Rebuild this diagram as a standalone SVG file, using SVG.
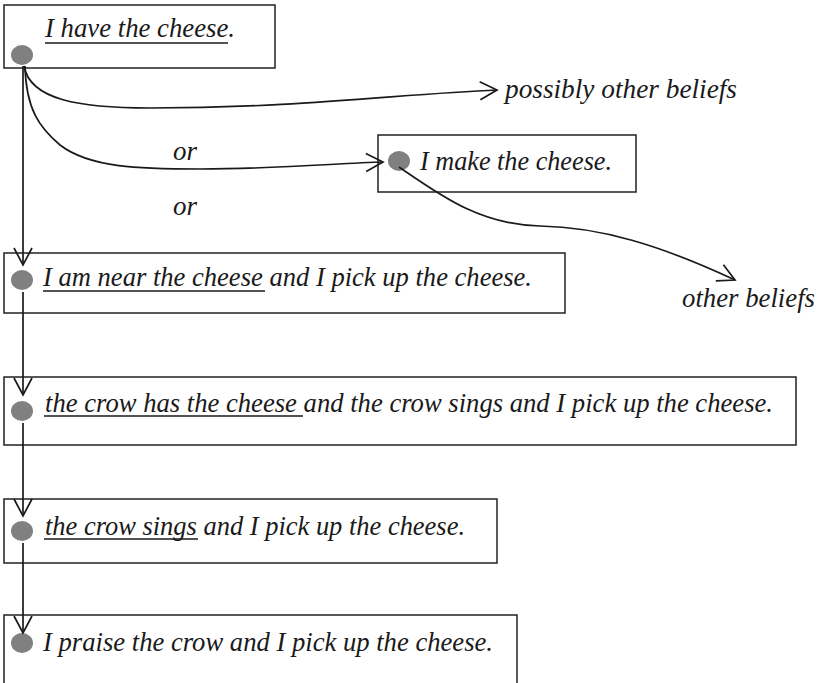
<svg xmlns="http://www.w3.org/2000/svg" width="821" height="683" viewBox="0 0 821 683">
<defs>
<style>
.box{fill:#fff;stroke:#222;stroke-width:1.5}
.dot{fill:#808080}
.t{font-family:"Liberation Serif","Times New Roman",serif;font-style:italic;font-size:28px;fill:#1a1a1a}
.ul{stroke:#1a1a1a;stroke-width:1.6}
.c{fill:none;stroke:#1a1a1a;stroke-width:1.7}
</style>
<marker id="arr" markerUnits="userSpaceOnUse" markerWidth="24" markerHeight="24" viewBox="-20 -12 24 24" refX="0" refY="0" orient="auto">
<path d="M -17 -9 L 0 0 L -17 9" fill="none" stroke="#1a1a1a" stroke-width="1.7"/>
</marker>
</defs>
<rect width="821" height="683" fill="#fff"/>
<g id="n1">
<rect class="box" x="4" y="5" width="271" height="63"/>
<ellipse class="dot" cx="22" cy="55" rx="11" ry="10"/>
<text class="t" x="45" y="37" textLength="190" lengthAdjust="spacingAndGlyphs">I have the cheese.</text>
<line class="ul" x1="45" y1="43" x2="228" y2="43"/>
</g>
<g id="n_make">
<rect class="box" x="378" y="135" width="258" height="57"/>
<ellipse class="dot" cx="399" cy="161" rx="11" ry="10"/>
<text class="t" x="420" y="170" textLength="192" lengthAdjust="spacingAndGlyphs">I make the cheese.</text>
</g>
<g id="n2">
<rect class="box" x="4" y="253" width="561" height="60"/>
<ellipse class="dot" cx="22" cy="280" rx="11" ry="10"/>
<text class="t" x="43" y="286" textLength="489" lengthAdjust="spacingAndGlyphs">I am near the cheese and I pick up the cheese.</text>
<line class="ul" x1="43" y1="291" x2="265" y2="291"/>
</g>
<g id="n3">
<rect class="box" x="4" y="377" width="792" height="68"/>
<ellipse class="dot" cx="22" cy="411" rx="11" ry="10"/>
<text class="t" x="45" y="412" textLength="728" lengthAdjust="spacingAndGlyphs">the crow has the cheese and the crow sings and I pick up the cheese.</text>
<line class="ul" x1="44" y1="416" x2="303" y2="416"/>
</g>
<g id="n4">
<rect class="box" x="4" y="499" width="493" height="64"/>
<ellipse class="dot" cx="22" cy="531" rx="11" ry="10"/>
<text class="t" x="45" y="535" textLength="420" lengthAdjust="spacingAndGlyphs">the crow sings and I pick up the cheese.</text>
<line class="ul" x1="44" y1="539" x2="198" y2="539"/>
</g>
<g id="n5">
<rect class="box" x="4" y="615" width="513" height="80"/>
<ellipse class="dot" cx="22" cy="643" rx="11" ry="10"/>
<text class="t" x="43" y="651" textLength="450" lengthAdjust="spacingAndGlyphs">I praise the crow and I pick up the cheese.</text>
</g>
<g id="labels">
<text class="t" x="505" y="98" textLength="232" lengthAdjust="spacingAndGlyphs">possibly other beliefs</text>
<text class="t" x="682" y="307" textLength="133" lengthAdjust="spacingAndGlyphs">other beliefs</text>
<text class="t" x="173" y="160" textLength="24" lengthAdjust="spacingAndGlyphs">or</text>
<text class="t" x="173" y="215" textLength="24" lengthAdjust="spacingAndGlyphs">or</text>
</g>
<g id="connectors">
<path class="c" d="M 23 66 L 23 265" marker-end="url(#arr)"/>
<path class="c" d="M 23 292 L 23 395" marker-end="url(#arr)"/>
<path class="c" d="M 23 423 L 23 516" marker-end="url(#arr)"/>
<path class="c" d="M 23 543 L 23 633" marker-end="url(#arr)"/>
<path class="c" d="M 24 66 C 30 100, 80 108, 150 108 C 300 108, 400 94, 497 90" marker-end="url(#arr)"/>
<path class="c" d="M 25 66 C 26 110, 40 128, 60 145 C 90 168, 140 169, 200 169 C 280 169, 340 163, 383 162" marker-end="url(#arr)"/>
<path class="c" d="M 399 167 C 440 195, 480 225, 540 226 C 600 227, 660 245, 735 280" marker-end="url(#arr)"/>
</g>
</svg>
